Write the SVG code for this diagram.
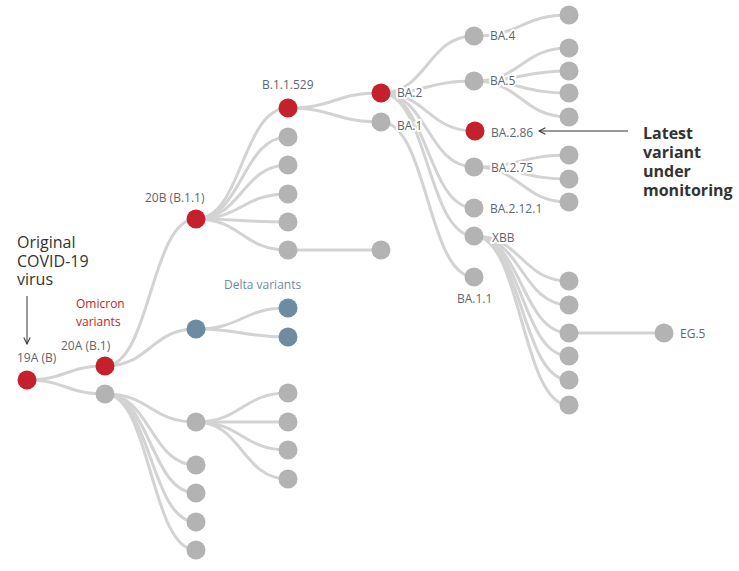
<svg xmlns="http://www.w3.org/2000/svg" width="739" height="571" viewBox="0 0 739 571">
<defs>
<style>
.lk{fill:none;stroke:#d3d3d3;stroke-width:3}
.g{fill:#b3b3b3}
.r{fill:#c4202e}
.b{fill:#6e8ca1}
.lb{font-family:"Open Sans","Noto Sans",sans-serif;font-size:12px;fill:#5f6670;stroke:#fff;stroke-width:4;paint-order:stroke;stroke-linejoin:round}
.big{font-family:"Open Sans","Noto Sans",sans-serif;font-size:16px;fill:#333}
.ann{stroke:#333;stroke-width:1;fill:none}
</style>
<marker id="ah" viewBox="0 0 10 10" refX="9" refY="5" markerWidth="8" markerHeight="8" orient="auto" markerUnits="userSpaceOnUse">
<path d="M1,1 L9,5 L1,9" fill="none" stroke="#333" stroke-width="1.3"/>
</marker>
</defs>
<rect width="739" height="571" fill="#fff"/>
<g id="connectors">
<path class="lk" d="M27,380 C66,380 66,366 105,366"/>
<path class="lk" d="M27,380 C66,380 66,394 105,394"/>
<path class="lk" d="M105,366 C150.5,366 150.5,219 196,219"/>
<path class="lk" d="M105,366 C150.5,366 150.5,329 196,329"/>
<path class="lk" d="M105,394 C150.5,394 150.5,422 196,422"/>
<path class="lk" d="M105,394 C150.5,394 150.5,465 196,465"/>
<path class="lk" d="M105,394 C150.5,394 150.5,493 196,493"/>
<path class="lk" d="M105,394 C150.5,394 150.5,522 196,522"/>
<path class="lk" d="M105,394 C150.5,394 150.5,550 196,550"/>
<path class="lk" d="M196,422 C242,422 242,393 288,393"/>
<path class="lk" d="M196,422 C242,422 242,422 288,422"/>
<path class="lk" d="M196,422 C242,422 242,450 288,450"/>
<path class="lk" d="M196,422 C242,422 242,479 288,479"/>
<path class="lk" d="M196,329 C242,329 242,308 288,308"/>
<path class="lk" d="M196,329 C242,329 242,337 288,337"/>
<path class="lk" d="M196,219 C242,219 242,108 288,108"/>
<path class="lk" d="M196,219 C242,219 242,137 288,137"/>
<path class="lk" d="M196,219 C242,219 242,165 288,165"/>
<path class="lk" d="M196,219 C242,219 242,194 288,194"/>
<path class="lk" d="M196,219 C242,219 242,222 288,222"/>
<path class="lk" d="M196,219 C242,219 242,250 288,250"/>
<path class="lk" d="M288,250 L381,250"/>
<path class="lk" d="M288,108 C334.5,108 334.5,93 381,93"/>
<path class="lk" d="M288,108 C334.5,108 334.5,122 381,122"/>
<path class="lk" d="M381,93 C427.5,93 427.5,36 474,36"/>
<path class="lk" d="M381,93 C427.5,93 427.5,81 474,81"/>
<path class="lk" d="M381,93 C427.5,93 427.5,131 475,131"/>
<path class="lk" d="M381,93 C427.5,93 427.5,167 474,167"/>
<path class="lk" d="M381,93 C427.5,93 427.5,208 474,208"/>
<path class="lk" d="M381,93 C427.5,93 427.5,236 474,236"/>
<path class="lk" d="M381,122 C427.5,122 427.5,277 474,277"/>
<path class="lk" d="M474,36 C521.5,36 521.5,15 569,15"/>
<path class="lk" d="M474,81 C521.5,81 521.5,48 569,48"/>
<path class="lk" d="M474,81 C521.5,81 521.5,71 569,71"/>
<path class="lk" d="M474,81 C521.5,81 521.5,93 569,93"/>
<path class="lk" d="M474,81 C521.5,81 521.5,117 569,117"/>
<path class="lk" d="M474,167 C521.5,167 521.5,155 569,155"/>
<path class="lk" d="M474,167 C521.5,167 521.5,179 569,179"/>
<path class="lk" d="M474,167 C521.5,167 521.5,202 569,202"/>
<path class="lk" d="M474,236 C521.5,236 521.5,281 569,281"/>
<path class="lk" d="M474,236 C521.5,236 521.5,305 569,305"/>
<path class="lk" d="M474,236 C521.5,236 521.5,333 569,333"/>
<path class="lk" d="M474,236 C521.5,236 521.5,356 569,356"/>
<path class="lk" d="M474,236 C521.5,236 521.5,380 569,380"/>
<path class="lk" d="M474,236 C521.5,236 521.5,405 569,405"/>
<path class="lk" d="M569,333 L664,333"/>
</g>
<g id="n19A"><circle class="r" cx="27" cy="380" r="9.5"/><text class="lb" x="17" y="362">19A (B)</text></g>
<g id="n20A"><circle class="r" cx="105" cy="366" r="9.5"/><text class="lb" x="61" y="350">20A (B.1)</text></g>
<g id="n20A-g"><circle class="g" cx="105" cy="394" r="9.5"/></g>
<g id="n20B"><circle class="r" cx="196" cy="219" r="9.5"/><text class="lb" x="145" y="202">20B (B.1.1)</text></g>
<g id="nDelta"><circle class="b" cx="196" cy="329" r="9.5"/></g>
<g id="nDelta1"><circle class="b" cx="288" cy="308" r="9.5"/></g>
<g id="nDelta2"><circle class="b" cx="288" cy="337" r="9.5"/></g>
<g id="n-g1"><circle class="g" cx="196" cy="422" r="9.5"/></g>
<g id="n-g2"><circle class="g" cx="196" cy="465" r="9.5"/></g>
<g id="n-g3"><circle class="g" cx="196" cy="493" r="9.5"/></g>
<g id="n-g4"><circle class="g" cx="196" cy="522" r="9.5"/></g>
<g id="n-g5"><circle class="g" cx="196" cy="550" r="9.5"/></g>
<g id="n-g6"><circle class="g" cx="288" cy="393" r="9.5"/></g>
<g id="n-g7"><circle class="g" cx="288" cy="422" r="9.5"/></g>
<g id="n-g8"><circle class="g" cx="288" cy="450" r="9.5"/></g>
<g id="n-g9"><circle class="g" cx="288" cy="479" r="9.5"/></g>
<g id="nB11529"><circle class="r" cx="288" cy="108" r="9.5"/><text class="lb" x="262" y="89">B.1.1.529</text></g>
<g id="n-b1"><circle class="g" cx="288" cy="137" r="9.5"/></g>
<g id="n-b2"><circle class="g" cx="288" cy="165" r="9.5"/></g>
<g id="n-b3"><circle class="g" cx="288" cy="194" r="9.5"/></g>
<g id="n-b4"><circle class="g" cx="288" cy="222" r="9.5"/></g>
<g id="n-b5"><circle class="g" cx="288" cy="250" r="9.5"/></g>
<g id="n-b6"><circle class="g" cx="381" cy="250" r="9.5"/></g>
<g id="nBA2"><circle class="r" cx="381" cy="93" r="9.5"/><text class="lb" x="397" y="97">BA.2</text></g>
<g id="nBA1"><circle class="g" cx="381" cy="122" r="9.5"/><text class="lb" x="397" y="130">BA.1</text></g>
<g id="nBA4"><circle class="g" cx="474" cy="36" r="9.5"/><text class="lb" x="490" y="40">BA.4</text></g>
<g id="nBA5"><circle class="g" cx="474" cy="81" r="9.5"/><text class="lb" x="490" y="85">BA.5</text></g>
<g id="nBA286"><circle class="r" cx="475" cy="131" r="9.5"/><text class="lb" x="491" y="137">BA.2.86</text></g>
<g id="nBA275"><circle class="g" cx="474" cy="167" r="9.5"/><text class="lb" x="491" y="172">BA.2.75</text></g>
<g id="nBA2121"><circle class="g" cx="474" cy="208" r="9.5"/><text class="lb" x="490" y="213">BA.2.12.1</text></g>
<g id="nXBB"><circle class="g" cx="474" cy="236" r="9.5"/><text class="lb" x="492" y="242">XBB</text></g>
<g id="nBA11"><circle class="g" cx="474" cy="277" r="9.5"/><text class="lb" x="457" y="303">BA.1.1</text></g>
<g id="n-c1"><circle class="g" cx="569" cy="15" r="9.5"/></g>
<g id="n-c2"><circle class="g" cx="569" cy="48" r="9.5"/></g>
<g id="n-c3"><circle class="g" cx="569" cy="71" r="9.5"/></g>
<g id="n-c4"><circle class="g" cx="569" cy="93" r="9.5"/></g>
<g id="n-c5"><circle class="g" cx="569" cy="117" r="9.5"/></g>
<g id="n-c6"><circle class="g" cx="569" cy="155" r="9.5"/></g>
<g id="n-c7"><circle class="g" cx="569" cy="179" r="9.5"/></g>
<g id="n-c8"><circle class="g" cx="569" cy="202" r="9.5"/></g>
<g id="n-x1"><circle class="g" cx="569" cy="281" r="9.5"/></g>
<g id="n-x2"><circle class="g" cx="569" cy="305" r="9.5"/></g>
<g id="n-x3"><circle class="g" cx="569" cy="333" r="9.5"/></g>
<g id="n-x4"><circle class="g" cx="569" cy="356" r="9.5"/></g>
<g id="n-x5"><circle class="g" cx="569" cy="380" r="9.5"/></g>
<g id="n-x6"><circle class="g" cx="569" cy="405" r="9.5"/></g>
<g id="nEG5"><circle class="g" cx="664" cy="333" r="9.5"/><text class="lb" x="680" y="338">EG.5</text></g>
<g id="annotations">
<text class="big" x="17" y="248">Original</text>
<text class="big" x="17" y="267">COVID-19</text>
<text class="big" x="17" y="285">virus</text>
<line class="ann" x1="27" y1="296" x2="27" y2="344" marker-end="url(#ah)"/>
<text style="font-family:'Open Sans','Noto Sans',sans-serif;font-size:12px;fill:#c4202e" x="76" y="308">Omicron</text>
<text style="font-family:'Open Sans','Noto Sans',sans-serif;font-size:12px;fill:#c4202e" x="76" y="326">variants</text>
<text style="font-family:'Open Sans','Noto Sans',sans-serif;font-size:12px;fill:#6e8ca1" x="224" y="289">Delta variants</text>
<line class="ann" x1="628" y1="131" x2="539" y2="131" marker-end="url(#ah)"/>
<text class="big" font-weight="bold" x="643" y="139">Latest</text>
<text class="big" font-weight="bold" x="643" y="158">variant</text>
<text class="big" font-weight="bold" x="643" y="177">under</text>
<text class="big" font-weight="bold" x="643" y="196">monitoring</text>
</g>
</svg>
